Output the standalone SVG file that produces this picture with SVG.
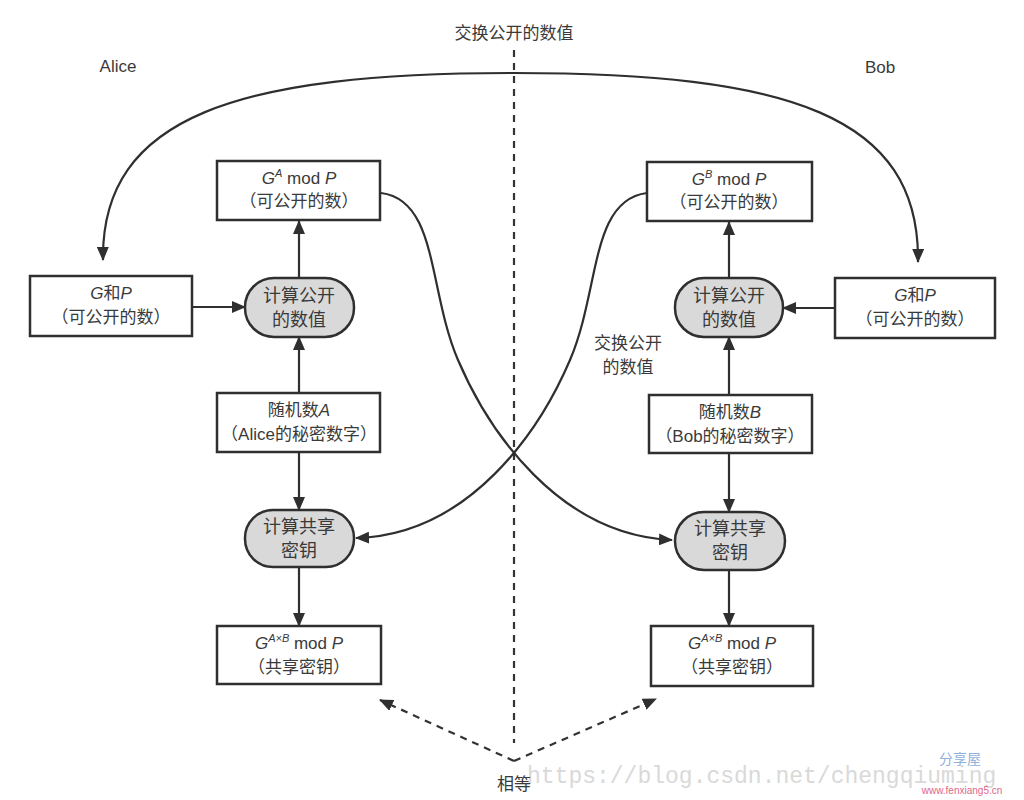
<svg xmlns="http://www.w3.org/2000/svg" width="1024" height="800" viewBox="0 0 1024 800">
<style>
.box{fill:#fff;stroke:#2f2f2f;stroke-width:2.5}
.pill{fill:#d9d9d9;stroke:#2f2f2f;stroke-width:2.5}
.t{font-family:"Liberation Sans","Noto Sans CJK SC",sans-serif;font-size:17px;fill:#3a3a3a;text-anchor:middle}
.big{font-size:18px}
.it{font-style:italic}
.sup{font-size:11px}
.ln{fill:none;stroke:#2f2f2f;stroke-width:2.2}
.dash{fill:none;stroke:#333;stroke-width:2.2;stroke-dasharray:7 6}
</style>
<defs>
<marker id="ah" markerUnits="userSpaceOnUse" markerWidth="14" markerHeight="12" refX="13" refY="6" orient="auto">
<path d="M0,0 L14,6 L0,12 Z" fill="#2f2f2f"/>
</marker>
<marker id="ahs" markerUnits="userSpaceOnUse" markerWidth="14" markerHeight="12" refX="1" refY="6" orient="auto">
<path d="M14,0 L0,6 L14,12 Z" fill="#2f2f2f"/>
</marker>
</defs>
<rect width="1024" height="800" fill="#fff"/>

<!-- watermarks -->
<text x="527" y="783" font-family="Liberation Mono,monospace" font-size="23" fill="#d9d9d9">https://blog.csdn.net/chengqiuming</text>
<text x="960" y="764" font-family="Noto Sans CJK SC,sans-serif" font-size="14" fill="#8fb0d8" text-anchor="middle">分享屋</text>
<text x="962" y="794" font-family="Liberation Sans,sans-serif" font-size="10" fill="#e0668a" text-anchor="middle">www.fenxiang5.cn</text>

<!-- labels -->
<text class="t" x="118" y="72">Alice</text>
<text class="t" x="880" y="73">Bob</text>
<text class="t" x="514" y="39">交换公开的数值</text>
<text class="t" x="628" y="349">交换公开</text>
<text class="t" x="628" y="373">的数值</text>
<text class="t" x="514" y="790">相等</text>

<g id="connectors">
<path class="dash" d="M514 50 V743"/>
<path class="ln" d="M103 260 C101 115, 240 73, 514 73 C788 73, 920 115, 918 262" marker-end="url(#ah)" marker-start="url(#ahs)"/>
<path class="ln" d="M381 193 C438 200, 428 290, 458 360 C488 430, 558 535, 672 540" marker-end="url(#ah)"/>
<path class="ln" d="M647 193 C590 200, 600 290, 570 360 C540 430, 470 535, 356 538" marker-end="url(#ah)"/>
<path class="ln" d="M299 278 V221" marker-end="url(#ah)"/>
<path class="ln" d="M192 307 H245" marker-end="url(#ah)"/>
<path class="ln" d="M299 393 V337" marker-end="url(#ah)"/>
<path class="ln" d="M299 452 V510" marker-end="url(#ah)"/>
<path class="ln" d="M299 567 V626" marker-end="url(#ah)"/>
<path class="ln" d="M729 278 V222" marker-end="url(#ah)"/>
<path class="ln" d="M835 308 H783" marker-end="url(#ah)"/>
<path class="ln" d="M729 395 V337" marker-end="url(#ah)"/>
<path class="ln" d="M729 453 V512" marker-end="url(#ah)"/>
<path class="ln" d="M729 570 V626" marker-end="url(#ah)"/>
<path class="dash" d="M514 761 L380 700" marker-end="url(#ah)"/>
<path class="dash" d="M514 761 L656 699" marker-end="url(#ah)"/>
</g>

<g id="ga">
<rect class="box" x="217" y="161" width="163" height="59"/>
<text class="t" x="299" y="184"><tspan class="it">G</tspan><tspan class="sup it" dy="-7">A</tspan><tspan dy="7"> mod </tspan><tspan class="it">P</tspan></text>
<text class="t" x="299" y="207">（可公开的数）</text>
</g>
<g id="gpA">
<rect class="box" x="30" y="276" width="162" height="60"/>
<text class="t" x="111" y="299"><tspan class="it">G</tspan>和<tspan class="it">P</tspan></text>
<text class="t" x="111" y="323">（可公开的数）</text>
</g>
<g id="calcA">
<rect class="pill" x="245" y="278" width="109" height="59" rx="29" ry="29"/>
<text class="t big" x="299" y="302">计算公开</text>
<text class="t big" x="299" y="326">的数值</text>
</g>
<g id="randA">
<rect class="box" x="217" y="393" width="163" height="59"/>
<text class="t" x="299" y="416">随机数<tspan class="it">A</tspan></text>
<text class="t" x="299" y="440">（Alice的秘密数字）</text>
</g>
<g id="sharedCalcA">
<rect class="pill" x="245" y="510" width="109" height="57" rx="28" ry="28"/>
<text class="t big" x="299" y="533">计算共享</text>
<text class="t big" x="299" y="557">密钥</text>
</g>
<g id="keyA">
<rect class="box" x="217" y="626" width="164" height="58"/>
<text class="t" x="299" y="649"><tspan class="it">G</tspan><tspan class="sup it" dy="-7">A×B</tspan><tspan dy="7"> mod </tspan><tspan class="it">P</tspan></text>
<text class="t" x="299" y="673">（共享密钥）</text>
</g>

<g id="gb">
<rect class="box" x="647" y="162" width="165" height="59"/>
<text class="t" x="729" y="185"><tspan class="it">G</tspan><tspan class="sup it" dy="-7">B</tspan><tspan dy="7"> mod </tspan><tspan class="it">P</tspan></text>
<text class="t" x="729" y="208">（可公开的数）</text>
</g>
<g id="gpB">
<rect class="box" x="835" y="278" width="160" height="60"/>
<text class="t" x="915" y="301"><tspan class="it">G</tspan>和<tspan class="it">P</tspan></text>
<text class="t" x="915" y="325">（可公开的数）</text>
</g>
<g id="calcB">
<rect class="pill" x="675" y="278" width="108" height="59" rx="29" ry="29"/>
<text class="t big" x="729" y="302">计算公开</text>
<text class="t big" x="729" y="326">的数值</text>
</g>
<g id="randB">
<rect class="box" x="649" y="395" width="163" height="58"/>
<text class="t" x="730" y="418">随机数<tspan class="it">B</tspan></text>
<text class="t" x="730" y="442">（Bob的秘密数字）</text>
</g>
<g id="sharedCalcB">
<rect class="pill" x="675" y="512" width="110" height="58" rx="29" ry="29"/>
<text class="t big" x="730" y="535">计算共享</text>
<text class="t big" x="730" y="559">密钥</text>
</g>
<g id="keyB">
<rect class="box" x="651" y="626" width="162" height="60"/>
<text class="t" x="732" y="649"><tspan class="it">G</tspan><tspan class="sup it" dy="-7">A×B</tspan><tspan dy="7"> mod </tspan><tspan class="it">P</tspan></text>
<text class="t" x="732" y="673">（共享密钥）</text>
</g>
</svg>
